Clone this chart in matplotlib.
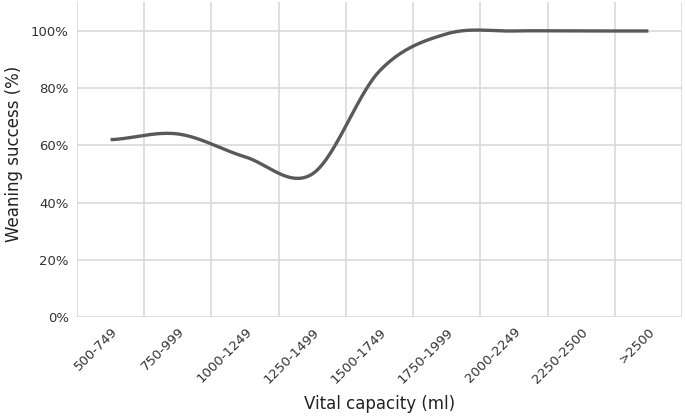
import numpy as np
import matplotlib
matplotlib.use("Agg")
import matplotlib.pyplot as plt
from matplotlib.ticker import PercentFormatter, FixedLocator

# categories and weaning success (%)
categories = ["500-749", "750-999", "1000-1249", "1250-1499", "1500-1749",
              "1750-1999", "2000-2249", "2250-2500", ">2500"]
success = [62, 64, 56, 50, 86, 99, 100, 100, 100]


def smooth(y, n=40):
    # Excel style smoothed line (catmull-rom through the points)
    y = np.asarray(y, dtype=float)
    x = np.arange(len(y), dtype=float)
    m = np.zeros_like(y)
    m[1:-1] = (y[2:] - y[:-2]) / 2
    m[0] = (y[1] - y[0]) / 2
    m[-1] = (y[-1] - y[-2]) / 2
    xs, ys = [], []
    t = np.linspace(0, 1, n)
    h00 = 2 * t**3 - 3 * t**2 + 1
    h10 = t**3 - 2 * t**2 + t
    h01 = -2 * t**3 + 3 * t**2
    h11 = t**3 - t**2
    for i in range(len(y) - 1):
        xs.append(x[i] + t)
        ys.append(h00 * y[i] + h10 * m[i] + h01 * y[i + 1] + h11 * m[i + 1])
    return np.concatenate(xs), np.concatenate(ys)


fig = plt.figure(figsize=(6.85, 4.18), dpi=100)
ax = fig.add_axes([0.1124, 0.2416, 0.8832, 0.7527])

xs, ys = smooth(success)
ax.plot(xs, ys, color="#595959", lw=2.4, solid_capstyle="butt", zorder=3)

ax.set_xlim(-0.5, len(categories) - 0.5)
ax.set_ylim(0, 110)
ax.yaxis.set_major_locator(FixedLocator([0, 20, 40, 60, 80, 100]))
ax.yaxis.set_major_formatter(PercentFormatter(decimals=0))
ax.set_xticks(range(len(categories)))
ax.set_xticklabels(categories, rotation=45, ha="right", rotation_mode="anchor")
ax.xaxis.set_minor_locator(FixedLocator(np.arange(-0.5, len(categories), 1.0)))

ax.grid(axis="y", which="major", color="#d9d9d9", lw=1.2)
ax.grid(axis="x", which="minor", color="#d9d9d9", lw=1.2)
ax.tick_params(which="both", length=0, labelsize=9.5, colors="#333333")
ax.tick_params(axis="x", pad=6)
ax.tick_params(axis="y", pad=6)
for s in ax.spines.values():
    s.set_visible(False)

ax.set_xlabel("Vital capacity (ml)", fontsize=12, color="#222222", labelpad=7)
ax.set_ylabel("Weaning success (%)", fontsize=12, color="#222222")
ax.yaxis.set_label_coords(-0.09, 0.52)

fig.savefig("out.png", dpi=100)
